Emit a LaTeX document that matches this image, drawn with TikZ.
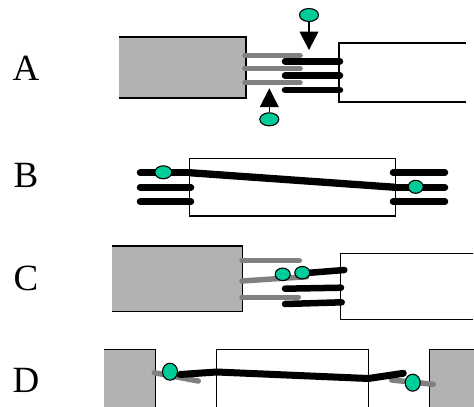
\documentclass[tikz,border=0pt]{standalone}
\usepackage{fontspec}
\setmainfont{Liberation Serif}
\usetikzlibrary{shapes.geometric}
\begin{document}
\begin{tikzpicture}[x=1pt,y=-1pt,
  boxline/.style={line width=1.4pt,black},
  grayfill/.style={fill=boxgray},
  graywire/.style={line width=5.5pt,wiregray,line cap=round},
  blackwire/.style={line width=6.5pt,black,line cap=round},
  bead/.style={ellipse,draw=black,line width=1.1pt,fill=beadgreen,inner sep=0pt},
  lab/.style={anchor=base,inner sep=0pt,font=\fontsize{37}{40}\selectfont},
  tri/.style={fill=black}]
\definecolor{boxgray}{HTML}{B2B2B2}
\definecolor{wiregray}{HTML}{808080}
\definecolor{beadgreen}{HTML}{00CC99}
\useasboundingbox (0,0) rectangle (474,407);
% labels
\node[lab] (la) at (26,80) {A};
\node[lab] (lb) at (26,187.5) {B};
\node[lab] (lc) at (26,290.5) {C};
\node[lab] (ld) at (26,392) {D};

% ---------- Panel A ----------
\fill[grayfill] (119,37) rectangle (246,98);
\draw[boxline] (119,37) -- (246,37) -- (246,98) -- (119,98);
\draw[boxline] (466,43) -- (339,43) -- (339,102) -- (466,102);
\foreach \y/\n in {55.7/1,68.3/2,82.7/3}{
  \coordinate (ag\n s) at (245,\y); \coordinate (ag\n e) at (300,\y);
  \draw[graywire] (ag\n s) -- (ag\n e);}
\foreach \y/\n in {61.3/1,75.7/2,90/3}{
  \coordinate (ab\n s) at (285,\y); \coordinate (ab\n e) at (340,\y);
  \draw[blackwire] (ab\n s) -- (ab\n e);}
% top arrow
\node[bead,minimum width=19pt,minimum height=13pt] (at) at (309,15) {};
\coordinate (atb) at (309,31.7);
\draw[line width=1.5pt] (at.south) -- (atb);
\fill[tri] (299.5,31.7) -- (318.5,31.7) -- (309,50) -- cycle;
% bottom arrow
\node[bead,minimum width=19pt,minimum height=13pt] (ab) at (269.3,119.3) {};
\coordinate (abb) at (269.3,107);
\draw[line width=1.5pt] (ab.north) -- (abb);
\fill[tri] (259.8,107) -- (278.8,107) -- (269.3,88.3) -- cycle;

% ---------- Panel B ----------
\draw[boxline] (189.5,158.3) rectangle (395.3,216);
\foreach \y/\n in {187.3/2,201.7/3}{
  \coordinate (bl\n s) at (140,\y); \coordinate (bl\n e) at (191,\y);
  \draw[blackwire] (bl\n s) -- (bl\n e);}
\foreach \y/\n in {172.7/1,201.7/3}{
  \coordinate (br\n s) at (393,\y); \coordinate (br\n e) at (445,\y);
  \draw[blackwire] (br\n s) -- (br\n e);}
\coordinate (bd1) at (140,172.7);
\coordinate (bd2) at (189.5,172.7);
\coordinate (bd3) at (395.3,187.3);
\coordinate (bd4) at (445,187.3);
\draw[blackwire] (bd1) -- (bd2);
\draw[black,line width=7.3pt] (bd2) -- (bd3);
\draw[blackwire] (bd3) -- (bd4);
\node[bead,minimum width=17pt,minimum height=13pt] (bg1) at (163.3,172.3) {};
\node[bead,minimum width=15pt,minimum height=13pt] (bg2) at (415.7,186.8) {};

% ---------- Panel C ----------
\fill[grayfill] (112,246) rectangle (242.3,311.7);
\draw[boxline] (112,246) -- (242.3,246) -- (242.3,311.7) -- (112,311.7);
\draw[boxline] (473,253.3) -- (340.7,253.3) -- (340.7,319.3) -- (473,319.3);
\coordinate (cg1s) at (242,260.7); \coordinate (cg1e) at (299.3,260.7);
\coordinate (cg2s) at (242,281); \coordinate (cg2e) at (306.7,276.7);
\coordinate (cg3s) at (242,297.3); \coordinate (cg3e) at (298.3,297.3);
\draw[graywire] (cg1s) -- (cg1e);
\draw[graywire] (cg2s) -- (cg2e);
\draw[graywire] (cg3s) -- (cg3e);
\coordinate (cb1s) at (303,273.3); \coordinate (cb1e) at (344.3,270);
\coordinate (cb2s) at (285,288.7); \coordinate (cb2e) at (341,287.7);
\coordinate (cb3s) at (285,304); \coordinate (cb3e) at (341.7,302.3);
\draw[blackwire] (cb1s) -- (cb1e);
\draw[blackwire] (cb2s) -- (cb2e);
\draw[blackwire] (cb3s) -- (cb3e);
\node[bead,minimum width=15pt,minimum height=12.5pt] (cgA) at (282.7,274.3) {};
\node[bead,minimum width=15pt,minimum height=12.5pt] (cgB) at (302.3,272.7) {};

% ---------- Panel D ----------
\fill[grayfill] (104,349.3) rectangle (155.7,412);
\draw[boxline] (104,349.3) -- (155.7,349.3) -- (155.7,412);
\draw[boxline] (216.7,412) -- (216.7,349.3) -- (368.3,349.3) -- (368.3,412);
\fill[grayfill] (429.3,349.3) rectangle (480,412);
\draw[boxline] (429.3,412) -- (429.3,349.3) -- (480,349.3);
\coordinate (dg1s) at (154.3,372.7); \coordinate (dg1e) at (198.3,381);
\coordinate (dg2s) at (391.7,380); \coordinate (dg2e) at (433.3,384.3);
\draw[graywire] (dg1s) -- (dg1e);
\draw[graywire] (dg2s) -- (dg2e);
\coordinate (dk1) at (180,374.5);
\coordinate (dk2) at (216.7,372);
\coordinate (dk3) at (368.3,378.5);
\coordinate (dk4) at (403.3,373.3);
\draw[blackwire,line width=7pt,line join=round] (dk1) -- (dk2) -- (dk3) -- (dk4);
\node[bead,minimum width=15pt,minimum height=17pt] (dgA) at (170,371.7) {};
\node[bead,minimum width=15pt,minimum height=17pt] (dgB) at (412.7,382.7) {};
\end{tikzpicture}
\end{document}
